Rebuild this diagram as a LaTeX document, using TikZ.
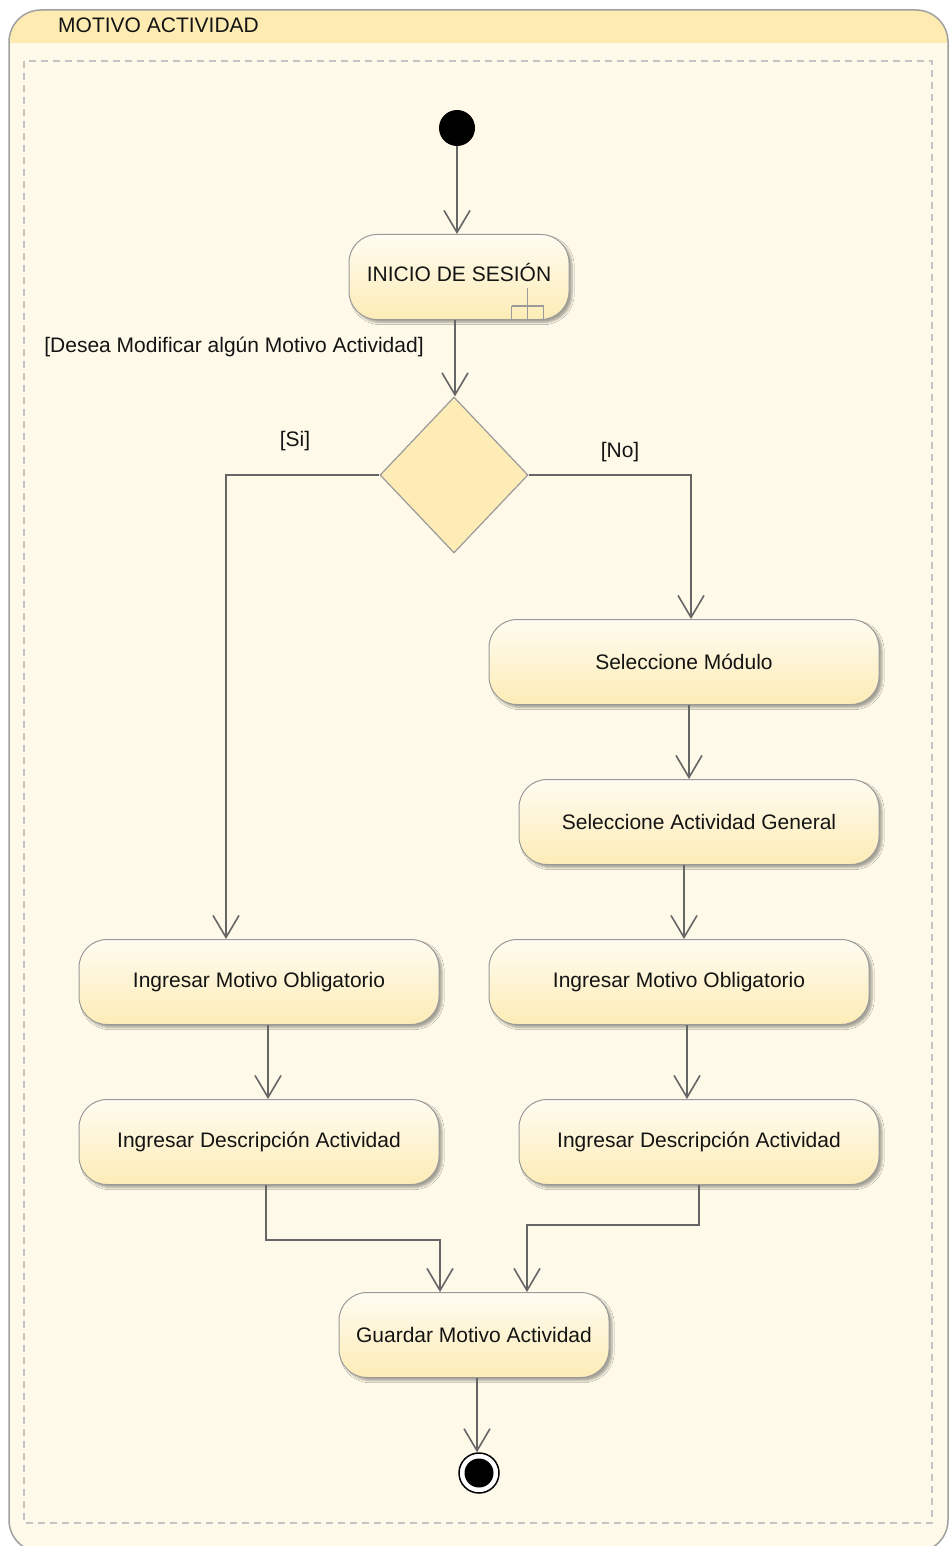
\documentclass[tikz,border=0pt]{standalone}
\usepackage{fontspec}
\setmainfont{Liberation Sans}
\usetikzlibrary{arrows.meta,shapes.geometric,shadows.blur}
\definecolor{bodyfill}{HTML}{FEF9E8}
\definecolor{headfill}{HTML}{FDEBB2}
\definecolor{frameline}{HTML}{A0A0A0}
\definecolor{dashline}{HTML}{C4C4C4}
\definecolor{boxline}{HTML}{9A9A9A}
\definecolor{boxtop}{HTML}{FFFCF1}
\definecolor{boxbot}{HTML}{FDECB6}
\definecolor{flowline}{HTML}{666666}
\definecolor{txt}{HTML}{141414}
\tikzset{
  x=1pt, y=-1pt,
  every node/.style={text=txt, font=\fontsize{21}{24}\selectfont},
  action/.style={rectangle, rounded corners=28pt, draw=boxline, line width=1pt,
    top color=boxtop, bottom color=boxbot, minimum height=85pt, inner sep=0pt,
    blur shadow={shadow xshift=3pt, shadow yshift=-3pt, shadow blur steps=6, shadow opacity=35}},
  decision/.style={diamond, draw=boxline, line width=1.2pt, fill=boxbot,
    minimum width=148pt, minimum height=156pt, inner sep=0pt},
  flow/.style={draw=flowline, line width=1.6pt,
    -{Straight Barb[length=22pt,width=26pt,line width=1.6pt]}},
  guard/.style={text=txt, inner sep=0pt}
}
\begin{document}
\begin{tikzpicture}
\useasboundingbox (0,0) rectangle (950,1546);
% swimlane frame with header band
\begin{scope}
  \clip[rounded corners=32pt] (9,10) rectangle (948,1552);
  \fill[bodyfill] (0,0) rectangle (950,1560);
  \fill[headfill] (0,0) rectangle (950,43);
\end{scope}
\draw[frameline, line width=1.5pt, rounded corners=32pt] (9,10) rectangle (948,1552);
\node[anchor=west, inner sep=0pt] (title) at (58,25) {MOTIVO ACTIVIDAD};
\draw[dashline, line width=1.2pt, dash pattern=on 7pt off 5pt] (24,61) rectangle (932,1523);

% initial node
\node[circle, fill=black, minimum size=36pt, inner sep=0pt] (start) at (457,128) {};
% actions
\node[action, minimum width=220pt] (ini) at (459,277) {\smash{\raisebox{-4pt}{INICIO DE SESIÓN}}};
% call-behaviour (rake) mark
\draw[boxline, line width=1.3pt]
  ([xshift=-58pt, yshift=14pt]ini.south east) -- ([xshift=-26pt, yshift=14pt]ini.south east)
  ([xshift=-58pt, yshift=14pt]ini.south east) -- ([xshift=-58pt]ini.south east)
  ([xshift=-26pt, yshift=14pt]ini.south east) -- ([xshift=-26pt]ini.south east)
  ([xshift=-42pt, yshift=32pt]ini.south east) -- ([xshift=-42pt]ini.south east);
\node[decision] (dec) at (454,475) {};

\node[action, minimum width=390pt] (R1) at (684,662) {Seleccione Módulo};
\node[action, minimum width=360pt] (R2) at (699,822) {Seleccione Actividad General};
\node[action, minimum width=380pt] (R3) at (679,982) {Ingresar Motivo Obligatorio};
\node[action, minimum width=360pt] (R4) at (699,1142) {Ingresar Descripción Actividad};
\node[action, minimum width=360pt] (L1) at (259,982) {Ingresar Motivo Obligatorio};
\node[action, minimum width=360pt] (L2) at (259,1142) {Ingresar Descripción Actividad};
\node[action, minimum width=270pt] (G) at (474,1335) {Guardar Motivo Actividad};

% final node
\node[circle, draw=black, line width=1.5pt, fill=white, minimum size=40pt, inner sep=0pt] (end) at (479,1473) {};
\node[circle, fill=black, minimum size=29pt, inner sep=0pt] (endcore) at (end) {};

% guards
\node[guard] (g0) at (234,347) {[Desea Modificar algún Motivo Actividad]};
\node[guard] (gsi) at (295,441) {[Si]};
\node[guard] (gno) at (620,452) {[No]};

% control flow
\draw[flow] (start) -- (start |- ini.north);
\draw[flow] (ini.south) ++(-4pt,0) coordinate (a0) -- (a0 |- dec.north);
\draw[flow] (dec.west) -| ([xshift=-33pt]L1.north);
\draw[flow] (dec.east) -| ([xshift=7pt]R1.north);
\draw[flow] (R1.south) ++(5pt,0) coordinate (a1) -- (a1 |- R2.north);
\draw[flow] (R2.south) ++(-15pt,0) coordinate (a2) -- (a2 |- R3.north);
\draw[flow] (R3.south) ++(8pt,0) coordinate (a3) -- (a3 |- R4.north);
\draw[flow] (L1.south) ++(9pt,0) coordinate (a4) -- (a4 |- L2.north);
\draw[flow] (L2.south) ++(7pt,0) -- ++(0,55) -| ([xshift=-34pt]G.north);
\draw[flow] (R4.south) -- ++(0,40) -| ([xshift=53pt]G.north);
\draw[flow] (G.south) ++(3pt,0) coordinate (a5) -- (a5 |- end.north);
\end{tikzpicture}
\end{document}
